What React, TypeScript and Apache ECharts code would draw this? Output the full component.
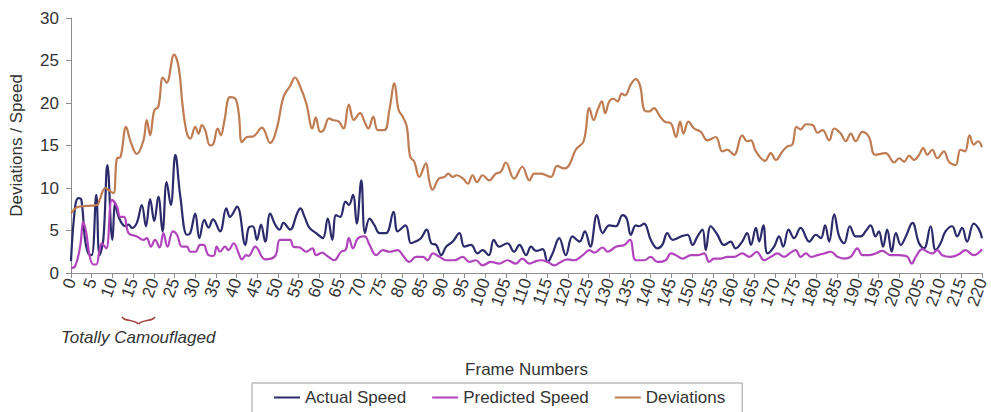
import React, { useEffect, useRef } from "react";
import * as echarts from "echarts";

const FONT = "Liberation Sans, Arial, sans-serif";

const xTicksMax = 220;
const yTicksMax = 30;

const actualSpeed: [number, number][] = [
  [0, 1.4], [1.0, 7.8], [1.8, 8.8], [2.5, 8.6], [3.4, 3.9], [4.2, 2.3], [5.0, 2.1], [6.1, 9.2], [6.9, 2.1], [7.8, 3.9],
  [8.8, 12.7], [10.0, 3.9], [10.7, 8.2], [11.5, 6.6], [13.1, 5.5], [13.9, 5.7], [14.7, 5.3], [15.9, 5.9], [17.1, 8.0], [18.1, 5.5],
  [19.1, 8.7], [20.1, 6.1], [21.1, 9.0], [22.1, 4.9], [23.1, 10.7], [24.1, 8.0], [25.2, 13.9], [26.4, 9.0], [28.0, 4.5], [28.8, 4.7],
  [30.0, 7.0], [31.0, 4.1], [32.2, 6.25], [33.2, 5.35], [34.3, 6.3], [36.0, 4.9], [37.5, 7.6], [38.4, 6.6], [40.1, 7.8], [42.1, 3.3],
  [42.9, 5.3], [43.9, 5.5], [44.9, 3.9], [45.9, 5.7], [46.9, 3.7], [48.1, 7.0], [49.3, 5.7], [50.4, 5.1], [51.3, 5.9], [52.9, 5.1],
  [54.6, 7.0], [55.4, 7.6], [56.4, 6.6], [57.6, 5.3], [59.2, 4.7], [60.8, 4.1], [62.0, 6.4], [63.1, 3.9], [64.0, 6.8], [65.0, 6.6],
  [66.3, 8.4], [67.1, 8.0], [68.1, 9.2], [69.0, 5.8], [70.1, 10.9], [71.0, 4.7], [72.1, 6.4], [73.3, 5.6], [74.5, 4.7], [76.1, 4.7],
  [77.9, 7.2], [78.9, 4.9], [80.8, 5.6], [82.1, 3.5], [83.2, 3.7], [84.5, 4.1], [85.9, 5.1], [87.0, 3.5], [88.2, 3.3], [89.4, 2.1],
  [90.6, 3.1], [92.2, 3.7], [93.8, 4.7], [95.0, 3.1], [96.6, 3.3], [98.2, 2.3], [99.4, 2.7], [100.9, 2.1], [102.1, 3.9], [103.4, 3.1],
  [105.4, 3.5], [107.0, 2.5], [108.3, 3.3], [109.9, 2.1], [111.1, 3.1], [112.3, 2.6], [113.9, 2.8], [115.1, 1.3], [116.3, 2.3], [117.9, 4.1],
  [119.5, 2.1], [121.1, 4.3], [122.8, 3.7], [124.1, 4.9], [125.4, 3.1], [127.0, 6.8], [128.4, 4.7], [130.0, 5.6], [131.6, 5.5], [133.2, 6.8],
  [134.2, 6.4], [135.2, 4.5], [136.4, 5.6], [137.2, 5.5], [138.4, 5.8], [140.0, 3.9], [141.6, 2.9], [142.8, 3.3], [144.0, 4.7], [145.3, 3.9],
  [147.3, 4.3], [148.9, 4.5], [150.1, 3.3], [151.3, 4.3], [152.5, 5.1], [153.3, 2.7], [154.5, 5.5], [156.1, 4.5], [157.7, 3.3], [159.3, 3.7],
  [160.5, 2.9], [162.1, 3.7], [163.3, 4.7], [164.2, 3.3], [165.4, 5.3], [166.2, 3.7], [167.2, 5.6], [168.2, 2.3], [169.8, 3.1], [171.0, 4.3],
  [172.0, 3.1], [173.3, 5.1], [174.6, 4.1], [176.2, 5.3], [178.3, 3.7], [179.9, 4.5], [181.1, 4.1], [182.1, 5.6], [183.1, 3.7], [184.3, 6.9],
  [185.5, 4.3], [186.7, 3.5], [188.1, 5.5], [189.5, 4.3], [190.7, 4.3], [191.9, 4.9], [193.1, 5.6], [194.3, 4.3], [195.1, 4.9], [196.1, 3.1],
  [197.1, 5.1], [198.2, 2.5], [199.2, 4.7], [200.4, 3.3], [201.6, 4.3], [203.2, 5.9], [204.8, 3.5], [206.0, 2.9], [207.6, 5.5], [208.8, 2.7],
  [210.0, 3.5], [211.2, 4.9], [212.8, 5.5], [214.0, 4.3], [215.2, 5.3], [216.4, 3.7], [218.0, 5.8], [219.3, 5.1], [220.0, 4.1],
];

const predictedSpeed: [number, number][] = [
  [0, 0.6], [1.0, 0.8], [2.2, 3.1], [3.0, 6.0], [3.7, 4.7], [4.5, 2.0], [5.4, 1.0], [6.1, 1.0], [6.9, 2.7], [7.4, 3.5],
  [8.5, 2.9], [9.9, 8.6], [11.1, 7.8], [11.9, 6.6], [12.8, 6.6], [13.9, 4.7], [15.9, 4.3], [17.5, 3.9], [18.3, 4.1], [19.3, 3.1],
  [20.3, 3.9], [21.4, 3.0], [22.3, 4.7], [23.3, 3.1], [24.6, 4.9], [25.6, 4.5], [26.8, 3.1], [28.0, 3.1], [28.8, 2.5], [30.0, 2.5],
  [31.2, 3.3], [32.0, 3.3], [33.2, 2.1], [34.4, 2.0], [35.2, 3.1], [36.0, 2.5], [37.2, 3.1], [38.0, 2.7], [39.3, 3.5], [40.5, 2.3],
  [41.3, 1.6], [42.3, 2.1], [42.9, 2.0], [44.5, 3.1], [46.9, 1.6], [49.3, 2.0], [50.5, 3.9], [52.9, 3.9], [53.7, 3.1], [55.3, 3.0],
  [56.8, 2.5], [58.3, 2.9], [59.2, 2.1], [60.7, 2.4], [61.6, 2.1], [63.6, 1.5], [65.2, 2.5], [66.3, 2.7], [67.1, 4.1], [68.1, 2.9],
  [69.3, 4.1], [70.9, 4.3], [72.1, 3.3], [73.7, 2.1], [75.3, 2.7], [76.9, 2.5], [78.9, 2.7], [80.1, 2.1], [81.7, 1.3], [83.3, 1.9],
  [85.0, 1.9], [86.1, 1.5], [87.4, 2.3], [89.0, 1.9], [90.6, 1.5], [92.6, 1.5], [94.6, 1.9], [96.2, 1.3], [97.8, 1.5], [99.4, 0.9],
  [101.4, 1.3], [103.4, 1.1], [105.4, 1.5], [107.4, 1.1], [109.0, 1.7], [110.7, 1.1], [112.3, 1.4], [113.5, 1.5], [115.1, 1.3], [116.7, 0.9],
  [118.3, 1.3], [119.9, 1.6], [121.5, 1.5], [123.6, 2.1], [125.2, 2.7], [126.4, 2.4], [128.4, 3.0], [129.6, 2.5], [131.6, 3.1], [133.6, 3.3],
  [135.0, 3.9], [136.4, 1.5], [138.4, 1.5], [140.0, 1.9], [141.6, 1.3], [143.6, 1.5], [144.9, 2.3], [146.1, 2.1], [147.7, 1.7], [149.7, 2.1],
  [151.3, 2.1], [152.9, 2.3], [154.1, 1.3], [155.3, 1.7], [156.9, 1.7], [158.5, 1.9], [160.1, 1.9], [162.1, 2.3], [163.8, 1.9], [165.6, 2.5],
  [167.4, 1.5], [169.0, 1.9], [170.6, 2.3], [172.2, 1.9], [173.8, 2.4], [175.0, 2.7], [176.2, 1.9], [177.5, 2.3], [178.7, 1.9], [180.3, 2.1],
  [181.9, 2.3], [183.5, 2.5], [185.1, 1.9], [186.7, 1.7], [188.3, 1.9], [189.9, 2.9], [191.1, 2.1], [192.7, 2.1], [194.3, 2.3], [195.9, 2.6],
  [198.0, 2.1], [200.0, 2.1], [202.0, 1.9], [203.0, 1.1], [204.0, 1.9], [205.6, 2.8], [206.8, 2.5], [208.0, 2.3], [209.2, 2.7], [210.4, 2.1],
  [212.4, 1.9], [214.4, 2.2], [216.0, 2.7], [218.0, 2.1], [220.0, 2.8],
];

const deviations: [number, number][] = [
  [0, 7.0], [1.8, 7.8], [6.3, 8.0], [6.9, 8.6], [8.3, 10.0], [9.5, 9.6], [10.3, 9.4], [11.1, 13.5], [11.9, 13.6], [13.3, 17.2],
  [14.3, 15.6], [15.9, 14.0], [17.5, 15.6], [18.3, 18.0], [19.1, 16.2], [20.1, 19.1], [21.1, 19.6], [22.2, 23.0], [23.1, 22.4], [24.9, 25.7],
  [26.0, 24.2], [27.0, 19.5], [28.0, 16.4], [28.8, 15.8], [30.0, 17.2], [30.8, 16.4], [31.6, 17.4], [32.4, 16.8], [33.6, 15.0], [34.4, 15.2],
  [35.4, 17.0], [36.2, 16.2], [37.0, 17.8], [38.4, 20.7], [39.7, 20.5], [40.5, 18.8], [41.3, 15.4], [42.5, 16.0], [44.1, 16.1], [46.1, 17.1],
  [48.1, 15.3], [49.7, 17.0], [51.3, 20.7], [52.9, 22.0], [54.1, 23.0], [55.2, 22.1], [56.8, 20.0], [58.3, 17.0], [59.1, 18.3], [60.2, 16.6],
  [61.0, 16.8], [62.3, 18.2], [63.2, 18.0], [64.7, 17.8], [65.8, 17.0], [67.1, 19.8], [68.3, 18.0], [69.8, 18.8], [70.9, 17.8], [71.8, 17.0],
  [73.0, 18.4], [74.1, 16.8], [75.7, 16.8], [76.9, 19.2], [78.1, 22.3], [79.1, 19.2], [80.1, 18.4], [81.1, 17.2], [81.9, 13.7], [82.9, 13.1],
  [84.1, 11.3], [85.7, 12.9], [86.5, 10.9], [87.3, 9.8], [88.8, 11.1], [90.2, 11.3], [91.1, 11.7], [92.2, 11.3], [93.1, 11.5], [94.7, 11.1],
  [95.8, 10.5], [97.0, 11.5], [98.0, 10.7], [99.4, 11.5], [101.0, 10.9], [102.6, 11.7], [103.8, 11.9], [105.0, 13.0], [107.0, 11.1], [109.0, 12.5],
  [110.7, 10.9], [111.9, 11.7], [113.5, 11.7], [115.9, 11.3], [117.4, 12.6], [119.1, 12.3], [120.3, 12.7], [121.9, 14.5], [123.8, 15.5], [125.2, 19.4],
  [126.2, 18.0], [127.2, 19.2], [128.2, 20.2], [129.0, 18.8], [130.0, 20.2], [131.0, 20.5], [132.0, 20.2], [133.0, 21.1], [133.8, 20.9], [135.2, 22.2],
  [136.4, 22.8], [137.5, 21.9], [138.4, 19.2], [139.6, 19.0], [140.8, 19.4], [142.0, 18.6], [143.4, 17.8], [144.9, 17.6], [146.1, 16.0], [147.1, 17.8],
  [147.9, 16.4], [149.1, 17.8], [150.5, 17.0], [152.1, 16.6], [153.7, 15.6], [155.7, 16.0], [157.3, 14.3], [158.5, 14.5], [160.1, 13.9], [162.1, 16.2],
  [163.3, 15.5], [164.2, 15.6], [165.4, 14.3], [167.6, 13.2], [169.0, 14.1], [170.2, 13.3], [171.8, 14.3], [173.0, 14.9], [174.2, 15.1], [175.2, 17.2],
  [176.2, 16.9], [177.5, 17.5], [179.1, 17.4], [180.3, 16.5], [181.5, 16.8], [183.1, 15.6], [184.3, 17.0], [185.9, 16.4], [187.1, 15.5], [188.3, 16.4],
  [189.5, 15.5], [191.1, 16.6], [192.7, 16.0], [194.2, 13.9], [196.7, 14.1], [198.8, 13.0], [200.0, 13.5], [201.2, 13.1], [202.4, 13.8], [203.6, 13.3],
  [204.8, 13.9], [205.8, 14.7], [206.8, 13.9], [208.0, 14.5], [209.2, 13.5], [210.8, 14.3], [212.0, 13.1], [213.6, 12.7], [214.8, 14.5], [215.9, 14.3],
  [217.0, 16.2], [218.0, 15.1], [219.1, 15.5], [220.0, 14.8],
];

const seriesNames = ["Actual Speed", "Predicted Speed", "Deviations"];
const seriesColors = ["#2b2a6b", "#b144bd", "#bf7c52"];

export default function App() {
  const ref = useRef<HTMLDivElement>(null);

  useEffect(() => {
    if (!ref.current) return;
    const chart = echarts.init(ref.current, undefined, { renderer: "svg" });
    const axisColor = "#8c8c8c";
    const textColor = "#333333";
    const datasets = [actualSpeed, predictedSpeed, deviations];

    chart.setOption({
      animation: false,
      backgroundColor: "#ffffff",
      textStyle: { fontFamily: FONT },
      grid: { left: 71, right: 8, top: 18, bottom: 139, containLabel: false },
      xAxis: {
        type: "value",
        min: 0,
        max: xTicksMax,
        interval: 5,
        name: "Frame Numbers",
        nameLocation: "middle",
        nameGap: 88,
        nameTextStyle: { fontSize: 17, color: textColor, fontFamily: FONT },
        axisLine: { show: true, lineStyle: { color: axisColor, width: 1 } },
        axisTick: { show: true, length: 5, lineStyle: { color: axisColor } },
        axisLabel: { rotate: 70, fontSize: 17, color: textColor, margin: 6, fontFamily: FONT },
        splitLine: { show: false },
      },
      yAxis: {
        type: "value",
        min: 0,
        max: yTicksMax,
        interval: 5,
        name: "Deviations / Speed",
        nameLocation: "middle",
        nameGap: 46,
        nameRotate: 90,
        nameTextStyle: { fontSize: 17, color: textColor, fontFamily: FONT },
        axisLine: { show: true, lineStyle: { color: axisColor, width: 1 } },
        axisTick: { show: true, length: 5, lineStyle: { color: axisColor } },
        axisLabel: { fontSize: 17, color: textColor, margin: 12, fontFamily: FONT },
        splitLine: { show: false },
      },
      legend: {
        left: 252,
        top: 383,
        orient: "horizontal",
        borderColor: "#9a9a9a",
        borderWidth: 1,
        padding: [6, 17, 8, 22],
        itemGap: 26,
        itemWidth: 26,
        itemHeight: 2,
        icon: "rect",
        textStyle: { fontSize: 17, color: textColor, fontFamily: FONT },
        data: seriesNames,
      },
      series: seriesNames.map((name, i) => ({
        name,
        type: "line",
        data: datasets[i],
        smooth: 0.4,
        symbol: "none",
        showSymbol: false,
        lineStyle: { color: seriesColors[i], width: 2.2 },
        itemStyle: { color: seriesColors[i] },
      })),
      graphic: [
        {
          type: "text",
          left: 61,
          top: 329,
          style: {
            text: "Totally Camouflaged",
            fontSize: 17,
            fontStyle: "italic",
            fill: textColor,
            fontFamily: FONT,
          },
        },
        {
          type: "bezierCurve",
          shape: { x1: 122, y1: 317, cpx1: 125, cpy1: 322, cpx2: 134, cpy2: 319, x2: 138.5, y2: 324 },
          style: { stroke: "#a2453f", lineWidth: 1.5, fill: "none" },
        },
        {
          type: "bezierCurve",
          shape: { x1: 138.5, y1: 324, cpx1: 143, cpy1: 319, cpx2: 152, cpy2: 322, x2: 155, y2: 317 },
          style: { stroke: "#a2453f", lineWidth: 1.5, fill: "none" },
        },
      ],
    });

    return () => chart.dispose();
  }, []);

  return (
    <div
      ref={ref}
      style={{ position: "fixed", left: 0, top: 0, width: 991, height: 412, background: "#fff" }}
    />
  );
}
